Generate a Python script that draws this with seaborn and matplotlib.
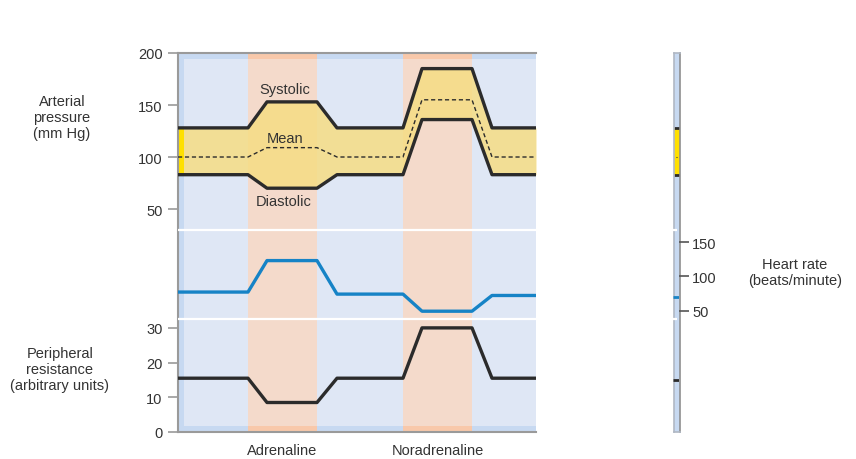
import matplotlib
matplotlib.use("Agg")
import matplotlib.pyplot as plt
import matplotlib.patches as mpatches
import seaborn as sns

# time axis (arbitrary units) and the traced values
time = [0, 7.0, 8.9, 13.9, 15.9, 22.5, 24.4, 29.4, 31.4, 35.8]
systolic = [128, 128, 153, 153, 128, 128, 185, 185, 128, 128]
mean_pressure = [100, 100, 109, 109, 100, 100, 155, 155, 100, 100]
diastolic = [83, 83, 70, 70, 83, 83, 136, 136, 83, 83]
heart_rate = [77, 77, 123, 123, 74, 74, 49, 49, 72, 72]
resistance = [15.5, 15.5, 8.5, 8.5, 15.5, 15.5, 30, 30, 15.5, 15.5]

drugs = ["Adrenaline", "Noradrenaline"]
drug_start = [7.0, 22.5]
drug_end = [13.9, 29.4]

# resting values shown on the right-hand strip
rest_systolic = 128
rest_diastolic = 83
rest_mean = 100
rest_hr = 70
rest_resistance = 15

pressure_ticks = [50, 100, 150, 200]
resistance_ticks = [0, 10, 20, 30]
hr_ticks = [50, 100, 150]

sns.set_style("white")
plt.rcParams['font.family'] = ['Liberation Sans', 'DejaVu Sans']

W, H = 856, 460
FS = 10.5
TXT = '#333333'
GRID = '#9a9a9a'
DARK = '#2b2b2b'
BLUE = '#1683c6'
PANEL_HR = (38, 168)  # heart-rate panel limits (white separators)


def px_rect(x0, y0, x1, y1):
    return [x0 / W, 1 - y1 / H, (x1 - x0) / W, (y1 - y0) / H]


fig = plt.figure(figsize=(W / 100, H / 100), dpi=100)

# main chart: three overlaid scales
ax_p = fig.add_axes(px_rect(178, 54, 536, 433))
ax_r = ax_p.twinx()
ax_h = ax_p.twinx()
ax_p.set_xlim(0, 35.8)
ax_p.set_ylim(-164.4, 200)
ax_r.set_ylim(0, 109.2)
ax_h.set_ylim(-127.6, 426.5)

ax_p.set_facecolor('#dfe7f5')
fw, fh = 6 / 358, 6 / 379
for rect in [(0, 0, fw, 1), (0, 0, 1, fh), (0, 1 - fh, 1, fh)]:
    ax_p.add_patch(mpatches.Rectangle(rect[:2], rect[2], rect[3], transform=ax_p.transAxes,
                                      color='#c7d9f1', lw=0, zorder=0.2))
for s, e in zip(drug_start, drug_end):
    ax_p.axvspan(s, e, color='#f4dacb', lw=0, zorder=0.5)
    ax_p.axvspan(s, e, ymin=0, ymax=fh, color='#f8c8aa', lw=0, zorder=0.6)
    ax_p.axvspan(s, e, ymin=1 - fh, ymax=1, color='#f8c8aa', lw=0, zorder=0.6)

ax_p.fill_between(time, diastolic, systolic, color='#f6dd84', alpha=0.85, lw=0, zorder=2)
ax_p.fill_between([0, 0.6], rest_diastolic, rest_systolic, color='#ffe000', lw=0, zorder=2.5)

sns.lineplot(x=time, y=systolic, ax=ax_p, color=DARK, lw=2.4, zorder=3)
sns.lineplot(x=time, y=diastolic, ax=ax_p, color=DARK, lw=2.4, zorder=3)
sns.lineplot(x=time, y=mean_pressure, ax=ax_p, color=DARK, lw=1, linestyle=(0, (3, 2)), zorder=3)

for y in PANEL_HR:
    ax_h.axhline(y, color='white', lw=1.6, zorder=1)
sns.lineplot(x=time, y=heart_rate, ax=ax_h, color=BLUE, lw=2.4, zorder=3)
sns.lineplot(x=time, y=resistance, ax=ax_r, color=DARK, lw=2.4, zorder=3)

ax_p.text(10.7, 165, "Systolic", ha='center', va='center', fontsize=FS, color=TXT, zorder=4)
ax_p.text(10.7, 118, "Mean", ha='center', va='center', fontsize=FS, color=TXT, zorder=4)
ax_p.text(10.6, 58, "Diastolic", ha='center', va='center', fontsize=FS, color=TXT, zorder=4)

ax_p.set_yticks(pressure_ticks)
ax_r.set_yticks(resistance_ticks)
ax_r.yaxis.tick_left()
ax_h.set_yticks([])
ax_p.set_xticks([(s + e) / 2 for s, e in zip(drug_start, drug_end)])
ax_p.set_xticklabels(drugs)
ax_p.tick_params(axis='x', length=0, pad=8, labelsize=FS, labelcolor=TXT)
for a in (ax_p, ax_r):
    a.tick_params(axis='y', length=7, width=1.2, color=GRID, labelsize=FS, labelcolor=TXT, pad=4)
for a in (ax_r, ax_h):
    for sp in a.spines.values():
        sp.set_visible(False)
for name, sp in ax_p.spines.items():
    sp.set_visible(name != 'right')
    sp.set_color(GRID)
    sp.set_linewidth(1.5)
ax_p.set_xlabel('')
ax_p.set_ylabel('')
ax_r.set_ylabel('')
ax_h.set_ylabel('')

# right-hand strip with resting values and heart-rate scale
ax_s = fig.add_axes(px_rect(673.5, 54, 679.5, 433))
ax_sh = ax_s.twinx()
ax_sr = ax_s.twinx()
ax_s.set_xlim(0, 1)
ax_s.set_ylim(-164.4, 200)
ax_sh.set_ylim(-127.6, 426.5)
ax_sr.set_ylim(0, 109.2)
ax_s.set_facecolor('#c7d9f1')
ax_s.set_xticks([])
ax_s.set_yticks([])
ax_sr.set_yticks([])
ax_sh.set_yticks(hr_ticks)
ax_sh.tick_params(axis='y', length=7, width=1.2, color='#555555', labelsize=FS, labelcolor=TXT, pad=2)
for name, sp in ax_s.spines.items():
    sp.set_color('#8f8f8f' if name == 'right' else '#b0b8c4')
    sp.set_linewidth(1.2)
for a in (ax_sh, ax_sr):
    for sp in a.spines.values():
        sp.set_visible(False)

ax_s.fill_between([0, 1], rest_diastolic, rest_systolic, color='#ffe000', lw=0)
ax_s.hlines([rest_systolic, rest_diastolic], 0, 1, color=DARK, lw=2)
ax_s.hlines(rest_mean, 0.35, 0.65, color=DARK, lw=0.8)
for y in PANEL_HR:
    ax_sh.hlines(y, 0, 0.6, color='white', lw=1.6)
ax_sh.hlines(rest_hr, 0, 1, color=BLUE, lw=2)
ax_sr.hlines(rest_resistance, 0, 1, color=DARK, lw=2)

fig.text(62 / W, 1 - 118 / H, "Arterial\npressure\n(mm Hg)", ha='center', va='center',
         fontsize=FS, color=TXT)
fig.text(60 / W, 1 - 370 / H, "Peripheral\nresistance\n(arbitrary units)", ha='center',
         va='center', fontsize=FS, color=TXT)
fig.text(795 / W, 1 - 273 / H, "Heart rate\n(beats/minute)", ha='center', va='center',
         fontsize=FS, color=TXT)

fig.savefig('out.png', dpi=100)
